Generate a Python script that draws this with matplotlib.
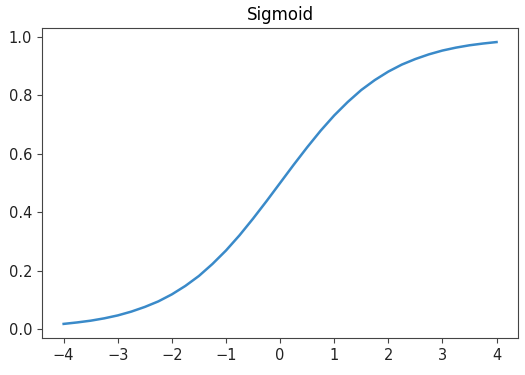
import matplotlib
matplotlib.use("Agg")
import matplotlib.pyplot as plt

x_vals = [-4.0, -3.75, -3.5, -3.25, -3.0, -2.75, -2.5, -2.25, -2.0, -1.75, -1.5, -1.25,
          -1.0, -0.75, -0.5, -0.25, 0.0, 0.25, 0.5, 0.75, 1.0, 1.25, 1.5, 1.75,
          2.0, 2.25, 2.5, 2.75, 3.0, 3.25, 3.5, 3.75, 4.0]
y_vals = [0.018, 0.023, 0.029, 0.037, 0.047, 0.060, 0.076, 0.095, 0.119, 0.148, 0.182, 0.223,
          0.269, 0.321, 0.378, 0.438, 0.500, 0.562, 0.622, 0.679, 0.731, 0.777, 0.818, 0.852,
          0.881, 0.905, 0.924, 0.940, 0.953, 0.963, 0.971, 0.977, 0.982]

fig = plt.figure(figsize=(5.25, 3.75), dpi=100)
ax = fig.add_axes([0.080, 0.0987, 0.907, 0.8267])
ax.plot(x_vals, y_vals, color="#3a8ac9", linewidth=1.8)
ax.set_title("Sigmoid", fontsize=12)
ax.set_xticks([-4, -3, -2, -1, 0, 1, 2, 3, 4])
ax.set_yticks([0.0, 0.2, 0.4, 0.6, 0.8, 1.0])
for s in ax.spines.values():
    s.set_color("#444444")
ax.tick_params(labelsize=10.5, color="#444444", labelcolor="#222222")
fig.savefig("out.png", dpi=100)
